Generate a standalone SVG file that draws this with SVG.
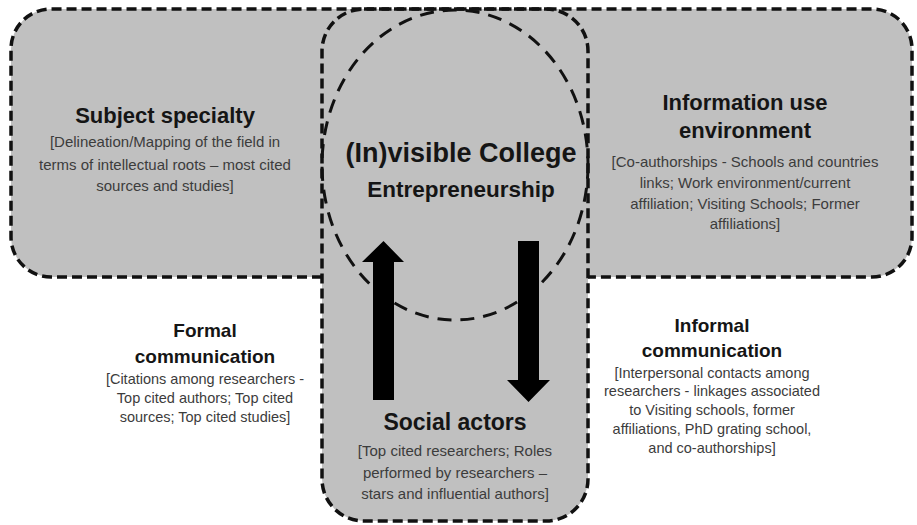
<svg xmlns="http://www.w3.org/2000/svg" width="917" height="525" viewBox="0 0 917 525">
  <style>
    .band { fill: #c0c0c0; stroke: none; }
    .dash { fill: none; stroke: #111; stroke-width: 3.5; stroke-dasharray: 10 5; }
    .ell { fill: none; stroke: #111; stroke-width: 3; stroke-dasharray: 14 9; }
    .title { font-family: "Liberation Sans", Arial, sans-serif; font-weight: bold; fill: #151515; text-anchor: middle; }
    .sub { font-family: "Liberation Sans", Arial, sans-serif; fill: #3c3c3c; text-anchor: middle; font-size: 15px; }
    .sub2 { font-family: "Liberation Sans", Arial, sans-serif; fill: #3c3c3c; text-anchor: middle; font-size: 14.5px; }
    .arrow { fill: #000; }
  </style>
  <rect width="917" height="525" fill="#fff"/>

  <g id="background-bands">
    <rect class="band" x="11" y="9" width="901" height="268" rx="40" ry="40"/>
    <rect class="band" x="322" y="9" width="266" height="512" rx="42" ry="42"/>
    <path class="dash" d="M322 277 H51 A40 40 0 0 1 11 237 V49 A40 40 0 0 1 51 9 H872 A40 40 0 0 1 912 49 V237 A40 40 0 0 1 872 277 H588"/>
  </g>

  <g id="social-actors">
    <rect class="dash" x="322" y="9" width="266" height="512" rx="42" ry="42"/>
    <text class="title" x="455" y="430" font-size="23">Social actors</text>
    <text class="sub" x="455" y="456">[Top cited researchers; Roles</text>
    <text class="sub" x="455" y="478">performed by researchers –</text>
    <text class="sub" x="455" y="499">stars and influential authors]</text>
  </g>

  <g id="invisible-college">
    <ellipse class="ell" cx="455" cy="165" rx="133" ry="155"/>
    <text class="title" x="461" y="162" font-size="27">(In)visible College</text>
    <text class="title" x="461" y="197" font-size="22.5">Entrepreneurship</text>
  </g>

  <g id="subject-specialty">
    <text class="title" x="165" y="123" font-size="22">Subject specialty</text>
    <text class="sub" x="165" y="147">[Delineation/Mapping of the field in</text>
    <text class="sub" x="165" y="170">terms of intellectual roots – most cited</text>
    <text class="sub" x="165" y="191">sources and studies]</text>
  </g>

  <g id="information-use-environment">
    <text class="title" x="745" y="110" font-size="22">Information use</text>
    <text class="title" x="745" y="138" font-size="22">environment</text>
    <text class="sub" x="745" y="167">[Co-authorships - Schools and countries</text>
    <text class="sub" x="745" y="188">links; Work environment/current</text>
    <text class="sub" x="745" y="209">affiliation; Visiting Schools;  Former</text>
    <text class="sub" x="745" y="229">affiliations]</text>
  </g>

  <g id="formal-communication">
    <text class="title" x="205" y="337" font-size="19">Formal</text>
    <text class="title" x="205" y="363" font-size="19">communication</text>
    <text class="sub2" x="205" y="384">[Citations among researchers -</text>
    <text class="sub2" x="205" y="403">Top cited authors; Top cited</text>
    <text class="sub2" x="205" y="422">sources; Top cited studies]</text>
  </g>

  <g id="informal-communication">
    <text class="title" x="712" y="332" font-size="19">Informal</text>
    <text class="title" x="712" y="357" font-size="19">communication</text>
    <text class="sub2" x="712" y="378">[Interpersonal contacts among</text>
    <text class="sub2" x="712" y="396">researchers - linkages associated</text>
    <text class="sub2" x="712" y="415">to Visiting schools, former</text>
    <text class="sub2" x="712" y="434">affiliations, PhD grating school,</text>
    <text class="sub2" x="712" y="453">and co-authorships]</text>
  </g>

  <g id="connectors">
    <polygon class="arrow" points="373,400 394,400 394,262 404,262 383.5,241 362,262 373,262"/>
    <polygon class="arrow" points="518,241 539,241 539,380 550,380 528.5,402 507,380 518,380"/>
  </g>
</svg>
